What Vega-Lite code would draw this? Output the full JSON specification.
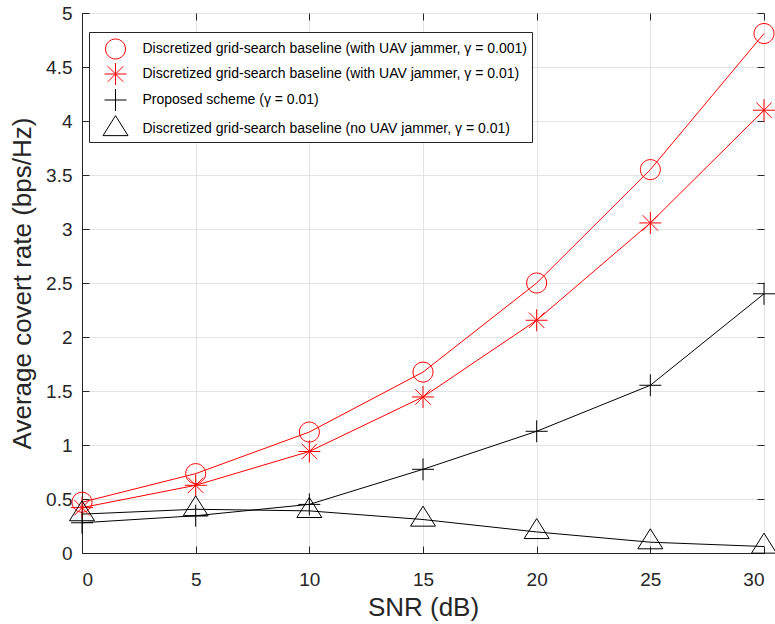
{
  "$schema": "https://vega.github.io/schema/vega-lite/v6.json",
  "width": 682,
  "height": 540,
  "autosize": {"type": "none"},
  "padding": {"left": 82, "top": 13, "right": 11, "bottom": 71},
  "background": "white",
  "config": {
    "font": "Liberation Sans",
    "view": {"stroke": "#262626", "strokeWidth": 1},
    "axis": {
      "domainColor": "#262626",
      "tickColor": "#262626",
      "labelColor": "#262626",
      "titleColor": "#262626",
      "labelFontSize": 19,
      "titleFontSize": 26,
      "titleFontWeight": "normal",
      "gridColor": "#e3e3e3",
      "gridWidth": 1,
      "tickSize": -7
    }
  },
  "data": {
    "values": [
      {"snr": 0, "rate": 0.47, "series": "Discretized grid-search baseline (with UAV jammer, γ = 0.001)"},
      {"snr": 5, "rate": 0.735, "series": "Discretized grid-search baseline (with UAV jammer, γ = 0.001)"},
      {"snr": 10, "rate": 1.12, "series": "Discretized grid-search baseline (with UAV jammer, γ = 0.001)"},
      {"snr": 15, "rate": 1.675, "series": "Discretized grid-search baseline (with UAV jammer, γ = 0.001)"},
      {"snr": 20, "rate": 2.5, "series": "Discretized grid-search baseline (with UAV jammer, γ = 0.001)"},
      {"snr": 25, "rate": 3.55, "series": "Discretized grid-search baseline (with UAV jammer, γ = 0.001)"},
      {"snr": 30, "rate": 4.81, "series": "Discretized grid-search baseline (with UAV jammer, γ = 0.001)"},
      {"snr": 0, "rate": 0.42, "series": "Discretized grid-search baseline (with UAV jammer, γ = 0.01)"},
      {"snr": 5, "rate": 0.627, "series": "Discretized grid-search baseline (with UAV jammer, γ = 0.01)"},
      {"snr": 10, "rate": 0.94, "series": "Discretized grid-search baseline (with UAV jammer, γ = 0.01)"},
      {"snr": 15, "rate": 1.445, "series": "Discretized grid-search baseline (with UAV jammer, γ = 0.01)"},
      {"snr": 20, "rate": 2.155, "series": "Discretized grid-search baseline (with UAV jammer, γ = 0.01)"},
      {"snr": 25, "rate": 3.056, "series": "Discretized grid-search baseline (with UAV jammer, γ = 0.01)"},
      {"snr": 30, "rate": 4.1, "series": "Discretized grid-search baseline (with UAV jammer, γ = 0.01)"},
      {"snr": 0, "rate": 0.28, "series": "Proposed scheme  (γ = 0.01)"},
      {"snr": 5, "rate": 0.345, "series": "Proposed scheme  (γ = 0.01)"},
      {"snr": 10, "rate": 0.45, "series": "Proposed scheme  (γ = 0.01)"},
      {"snr": 15, "rate": 0.775, "series": "Proposed scheme  (γ = 0.01)"},
      {"snr": 20, "rate": 1.127, "series": "Proposed scheme  (γ = 0.01)"},
      {"snr": 25, "rate": 1.553, "series": "Proposed scheme  (γ = 0.01)"},
      {"snr": 30, "rate": 2.4, "series": "Proposed scheme  (γ = 0.01)"},
      {"snr": 0, "rate": 0.36, "series": "Discretized grid-search baseline (no UAV jammer,  γ = 0.01)"},
      {"snr": 5, "rate": 0.405, "series": "Discretized grid-search baseline (no UAV jammer,  γ = 0.01)"},
      {"snr": 10, "rate": 0.39, "series": "Discretized grid-search baseline (no UAV jammer,  γ = 0.01)"},
      {"snr": 15, "rate": 0.31, "series": "Discretized grid-search baseline (no UAV jammer,  γ = 0.01)"},
      {"snr": 20, "rate": 0.195, "series": "Discretized grid-search baseline (no UAV jammer,  γ = 0.01)"},
      {"snr": 25, "rate": 0.1, "series": "Discretized grid-search baseline (no UAV jammer,  γ = 0.01)"},
      {"snr": 30, "rate": 0.06, "series": "Discretized grid-search baseline (no UAV jammer,  γ = 0.01)"}
    ]
  },
  "layer": [
    {
      "mark": {"type": "line", "strokeWidth": 1, "clip": false},
      "encoding": {
        "x": {
          "field": "snr", "type": "quantitative",
          "scale": {"domain": [0, 30], "nice": false},
          "axis": {"title": "SNR (dB)", "values": [0, 5, 10, 15, 20, 25, 30], "labelPadding": 24, "titlePadding": 5, "grid": true}
        },
        "y": {
          "field": "rate", "type": "quantitative",
          "scale": {"domain": [0, 5], "nice": false},
          "axis": {"title": "Average covert rate (bps/Hz)", "values": [0, 0.5, 1, 1.5, 2, 2.5, 3, 3.5, 4, 4.5, 5], "format": ".1~f", "labelPadding": 17, "titlePadding": 10, "grid": true}
        },
        "color": {
          "field": "series", "type": "nominal",
          "scale": {
            "domain": [
              "Discretized grid-search baseline (with UAV jammer, γ = 0.001)",
              "Discretized grid-search baseline (with UAV jammer, γ = 0.01)",
              "Proposed scheme  (γ = 0.01)",
              "Discretized grid-search baseline (no UAV jammer,  γ = 0.01)"
            ],
            "range": ["#ff0000", "#ff0000", "#000000", "#000000"]
          },
          "legend": {
            "title": null,
            "orient": "none",
            "legendX": 7,
            "legendY": 19,
            "padding": 4,
            "fillColor": "white",
            "strokeColor": "#262626",
            "labelFont": "Liberation Sans",
            "labelFontSize": 14,
            "labelColor": "#000000",
            "labelLimit": 600,
            "symbolSize": 625,
            "symbolStrokeWidth": 1,
            "symbolOffset": 9.5,
            "labelOffset": 14,
            "rowPadding": 0,
            "encode": {
              "symbols": {
                "update": {
                  "fill": {"value": "transparent"},
                  "shape": {"signal": "datum.value === 'Discretized grid-search baseline (with UAV jammer, γ = 0.001)' ? 'M-1.8,0H1.8M0.8,0A0.8,0.8 0 1,1 -0.8,0A0.8,0.8 0 1,1 0.8,0' : datum.value === 'Discretized grid-search baseline (with UAV jammer, γ = 0.01)' ? 'M-1.8,0H1.8M0,-0.88V0.88M-0.62,-0.62L0.62,0.62M-0.62,0.62L0.62,-0.62' : datum.value === 'Proposed scheme  (γ = 0.01)' ? 'M-1.8,0H1.8M0,-0.88V0.88' : 'M-1.8,0H1.8M0,-1.07L1,0.53L-1,0.53Z'"}
                }
              }
            }
          }
        }
      }
    },
    {
      "mark": {"type": "point", "filled": false, "strokeWidth": 1, "size": 625, "opacity": 1, "clip": false},
      "encoding": {
        "x": {"field": "snr", "type": "quantitative", "axis": null},
        "y": {"field": "rate", "type": "quantitative", "axis": null},
        "color": {"field": "series", "type": "nominal"},
        "shape": {
          "field": "series", "type": "nominal",
          "scale": {
            "domain": [
              "Discretized grid-search baseline (with UAV jammer, γ = 0.001)",
              "Discretized grid-search baseline (with UAV jammer, γ = 0.01)",
              "Proposed scheme  (γ = 0.01)",
              "Discretized grid-search baseline (no UAV jammer,  γ = 0.01)"
            ],
            "range": [
              "M0.8,0A0.8,0.8 0 1,1 -0.8,0A0.8,0.8 0 1,1 0.8,0",
              "M-0.88,0H0.88M0,-0.88V0.88M-0.62,-0.62L0.62,0.62M-0.62,0.62L0.62,-0.62",
              "M-0.88,0H0.88M0,-0.88V0.88",
              "M0,-1.07L1,0.53L-1,0.53Z"
            ]
          },
          "legend": null
        }
      }
    },
    {
      "mark": {"type": "point", "opacity": 0},
      "encoding": {
        "x": {"field": "snr", "type": "quantitative", "axis": {"orient": "top", "title": null, "labels": false, "grid": false, "values": [0, 5, 10, 15, 20, 25, 30], "domain": false}},
        "y": {"field": "rate", "type": "quantitative", "axis": {"orient": "right", "title": null, "labels": false, "grid": false, "values": [0, 0.5, 1, 1.5, 2, 2.5, 3, 3.5, 4, 4.5, 5], "domain": false}}
      }
    }
  ],
  "resolve": {"axis": {"x": "independent", "y": "independent"}}
}
